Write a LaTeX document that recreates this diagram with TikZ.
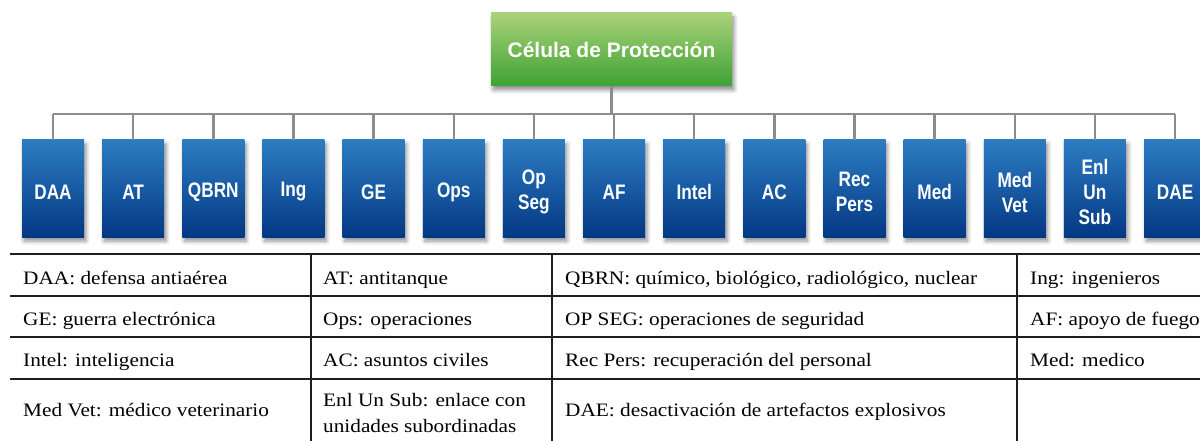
\documentclass[tikz,border=0pt]{standalone}
\usepackage{fontspec}
\usetikzlibrary{shadows.blur}
\newfontfamily\boxfont{Liberation Sans}[FakeStretch=0.82]
\newfontfamily\rootfont{Liberation Sans}
\newfontfamily\tabfont{Liberation Serif}[FakeStretch=1.12]
\definecolor{bluetop}{RGB}{44,124,194}
\definecolor{bluebot}{RGB}{4,56,132}
\definecolor{greentop}{RGB}{170,210,120}
\definecolor{greenbot}{RGB}{62,162,52}
\definecolor{conngray}{RGB}{140,140,140}
\definecolor{gridcol}{RGB}{30,30,30}
\begin{document}
\begin{tikzpicture}[x=1pt,y=-1pt,
  unit/.style={draw=none, top color=bluetop, bottom color=bluebot,
    minimum width=62pt, minimum height=97pt, inner sep=0pt,
    blur shadow={shadow xshift=2pt, shadow yshift=-4pt, shadow blur radius=4pt, shadow opacity=45}},
  utext/.style={inner sep=0pt, text=white, align=center, yshift=-3.5pt,
    font=\boxfont\bfseries\fontsize{21}{25}\selectfont},
  rootbox/.style={draw=none, top color=greentop, bottom color=greenbot,
    minimum width=241pt, minimum height=73pt, inner sep=0pt, text=white,
    font=\rootfont\bfseries\fontsize{21}{25}\selectfont,
    blur shadow={shadow xshift=2pt, shadow yshift=-4pt, shadow blur radius=4pt, shadow opacity=45}},
  conn/.style={draw=conngray, line width=2.5pt},
  grid/.style={draw=gridcol, line width=1.3pt},
  cell/.style={anchor=base west, inner sep=0pt, font=\tabfont\fontsize{19}{26}\selectfont},
  cellml/.style={anchor=west, inner sep=0pt, align=left, font=\tabfont\fontsize{19}{26}\selectfont}
]
\useasboundingbox (0,0) rectangle (1200,441);

% root
\node[rootbox] (root) at (611.5,49.5) {Célula de Protección};

% units
\foreach \i/\x/\t in {1/53/DAA, 2/133.15/AT, 3/213.3/QBRN, 4/293.45/Ing, 5/373.6/GE,
  6/453.75/Ops, 7/533.9/{Op\\Seg}, 8/614.05/AF, 9/694.2/Intel, 10/774.35/AC,
  11/854.5/{Rec\\Pers}, 12/934.65/Med, 13/1014.8/{Med\\Vet}, 14/1094.95/{Enl\\Un\\Sub},
  15/1175.1/DAE}
{
  \node[unit] (b\i) at (\x,188.5) {};
  \node[utext] (l\i) at (b\i.center) {\t};
}

% connectors
\coordinate (bus) at (611.5,114);
\draw[conn] (b1.north |- bus) -- (b15.north |- bus);
\draw[conn] (root.south) -- (root.south |- bus);
\foreach \b in {b1,b2,b3,b4,b5,b6,b7,b8,b9,b10,b11,b12,b13,b14,b15}
  \draw[conn] (\b.north) -- (\b.north |- bus);

% table grid
\draw[grid] (10,254) -- (1200,254);
\draw[grid] (10,296) -- (1200,296);
\draw[grid] (10,337) -- (1200,337);
\draw[grid] (10,379) -- (1200,379);
\draw[grid] (311,254) -- (311,441);
\draw[grid] (552,254) -- (552,441);
\draw[grid] (1017,254) -- (1017,441);

% table text
\node[cell] (t11) at (23,284)  {DAA: defensa antiaérea};
\node[cell] (t12) at (323,284) {AT: antitanque};
\node[cell] (t13) at (565,284) {QBRN: químico, biológico, radiológico, nuclear};
\node[cell] (t14) at (1030,284){Ing: ingenieros};

\node[cell] (t21) at (23,325)  {GE: guerra electrónica};
\node[cell] (t22) at (323,325) {Ops: operaciones};
\node[cell] (t23) at (565,325) {OP SEG: operaciones de seguridad};
\node[cell] (t24) at (1030,325){AF: apoyo de fuego};

\node[cell] (t31) at (23,366)  {Intel: inteligencia};
\node[cell] (t32) at (323,366) {AC: asuntos civiles};
\node[cell] (t33) at (565,366) {Rec Pers: recuperación del personal};
\node[cell] (t34) at (1030,366){Med: medico};

\node[cell] (t41) at (23,416)  {Med Vet: médico veterinario};
\node[cellml] (t42) at (323,413) {Enl Un Sub: enlace con\\unidades subordinadas};
\node[cell] (t43) at (565,416) {DAE: desactivación de artefactos explosivos};
\end{tikzpicture}
\end{document}
